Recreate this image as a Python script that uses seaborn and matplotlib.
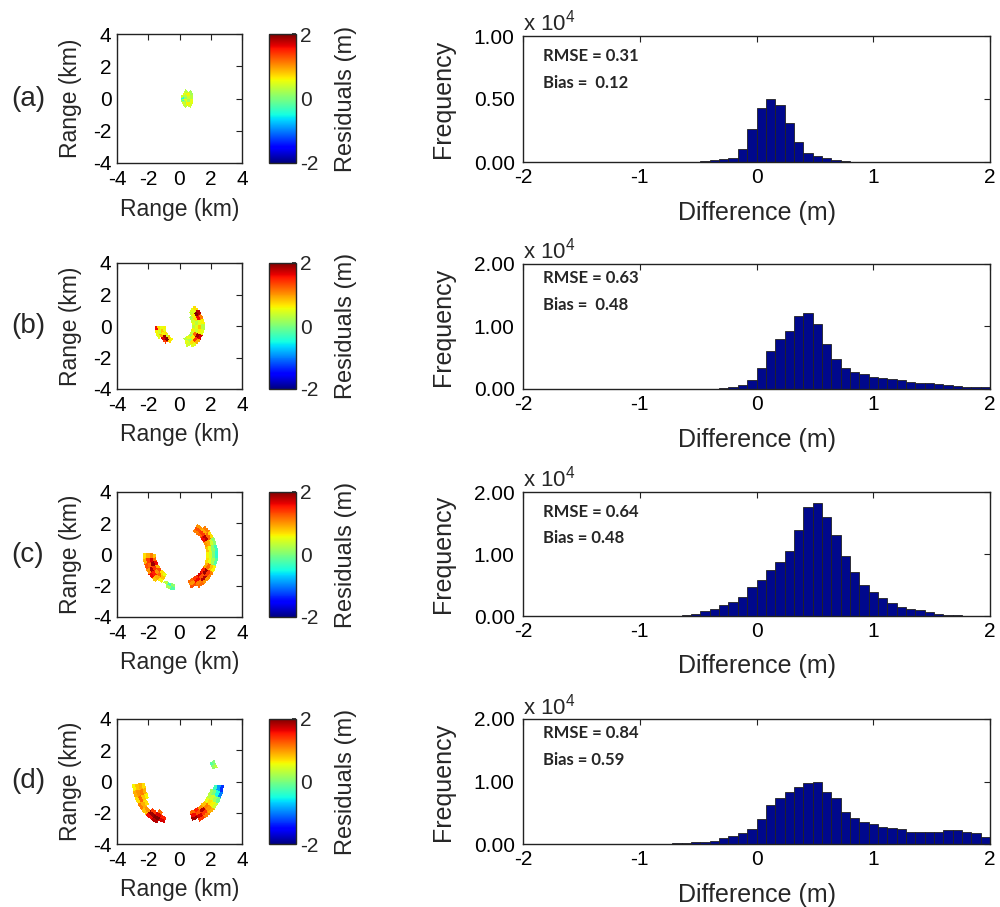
import numpy as np
import pandas as pd
import matplotlib
matplotlib.use("Agg")
import matplotlib.pyplot as plt
import seaborn as sns
from matplotlib.ticker import FuncFormatter

# Histogram bins of the differences (m): 50 bins from -2 to 2
bin_edges = np.linspace(-2, 2, 51)

# Frequencies per bin (one value per bin, left to right)
freq_a = [0, 0, 0, 0, 0, 0, 0, 0, 0, 0,
          0, 0, 0, 0, 0, 20, 20, 25, 30, 110,
          130, 270, 350, 1000, 2600, 4300, 5000, 4500, 3100, 1600,
          720, 450, 320, 190, 50, 30, 0, 0, 0, 0,
          0, 0, 0, 0, 0, 0, 0, 0, 0, 0]
freq_b = [0, 0, 0, 0, 0, 0, 0, 0, 0, 0,
          0, 0, 0, 0, 0, 0, 0, 0, 0, 0,
          50, 100, 270, 600, 1400, 3350, 6000, 8000, 9200, 11600,
          12200, 10400, 7200, 4800, 3350, 2800, 2400, 2000, 1700, 1600,
          1500, 1200, 1000, 900, 800, 600, 500, 400, 350, 350]
freq_c = [0, 0, 0, 0, 0, 0, 0, 0, 0, 0,
          0, 0, 0, 30, 30, 40, 60, 160, 400, 800,
          1200, 1700, 2200, 3000, 4600, 5800, 7500, 8700, 10500, 13900,
          17600, 18200, 15900, 13000, 9600, 7100, 5000, 3800, 2900, 2100,
          1500, 1100, 900, 650, 400, 200, 150, 30, 0, 0]
freq_d = [0, 0, 0, 0, 0, 0, 0, 0, 0, 0,
          0, 30, 30, 30, 40, 50, 150, 200, 250, 350,
          450, 950, 1250, 1750, 2400, 4000, 6200, 7300, 8300, 9100,
          9700, 10000, 8400, 7300, 5200, 4200, 3600, 3200, 2800, 2500,
          2400, 2000, 2000, 2000, 2000, 2200, 2200, 2000, 1700, 1200]

y_max = [1e4, 2e4, 2e4, 2e4]
y_ticks = [[0, 0.5e4, 1e4], [0, 1e4, 2e4], [0, 1e4, 2e4], [0, 1e4, 2e4]]
rmse_labels = ["RMSE = 0.31", "RMSE = 0.63", "RMSE = 0.64", "RMSE = 0.84"]
bias_labels = ["Bias =  0.12", "Bias =  0.48", "Bias = 0.48", "Bias = 0.59"]
panel_labels = ["(a)", "(b)", "(c)", "(d)"]

# Residual maps: arc sectors (r0, r1 in km, theta0, theta1 in deg, residuals in m)
# residual tables: rows inner -> outer radius, columns along the arc (ccw)
nan = np.nan
sectors_a = [
    (0.1, 0.9, -60, 55, [[0.2, -0.3, 0.3, -0.5, 0.2, 0.4],
                         [0.4, 0.2, 0.5, 0.1, 0.3, 0.5],
                         [0.3, 0.6, 0.2, 0.4, 0.6, 0.3],
                         [nan, 0.4, 0.5, 0.3, 0.2, nan]]),
]
sectors_b = [
    (0.9, 1.6, 180, 242, [[0.6, 0.5, 0.7, 0.4, 0.8, 0.6],
                          [0.5, 0.8, 0.6, 1.9, 2.0, 0.7],
                          [0.7, 0.4, 0.9, 1.7, 1.4, nan],
                          [1.6, 0.6, 0.5, nan, nan, nan]]),
    (0.8, 1.6, -72, 55, [[0.3, 0.5, 0.2, 0.4, 0.6, 0.3, 0.5, 0.4, 0.2, nan],
                         [0.5, 0.2, 0.6, 1.2, 0.4, 0.5, 0.3, 0.7, 0.6, 0.4],
                         [0.4, 0.7, 1.4, 1.9, 0.6, 0.8, 0.5, 1.6, 2.0, 0.5],
                         [nan, 0.5, 0.9, 1.7, 0.5, 0.3, 0.6, 1.1, 1.8, 0.7]]),
]
sectors_c = [
    (1.5, 2.35, 178, 238, [[0.8, 1.2, 1.6, 0.9, 1.3, 0.7, 0.5],
                           [1.1, 1.7, 1.9, 1.4, 1.0, 1.2, 0.8],
                           [0.9, 1.4, 1.2, 1.8, 1.5, 0.9, 0.6],
                           [0.7, 0.9, 1.3, 1.0, 1.6, 0.8, nan]]),
    (1.9, 2.3, 240, 262, [[0.3, -0.3, 0.1],
                          [nan, 0.2, -0.2]]),
    (1.7, 2.45, -72, 60, [[1.2, 1.4, 1.7, 1.5, 0.9, 0.7, 0.6, 0.8, 1.0, 1.6, 1.2, 1.1],
                          [1.0, 1.6, 1.3, 1.9, 1.2, 0.5, 0.4, 0.5, 0.9, 1.8, 1.4, 1.3],
                          [1.3, 1.1, 1.8, 1.4, 0.8, 0.2, 0.0, 0.1, 0.4, 1.2, 0.9, 1.0],
                          [nan, 1.2, 1.0, 1.1, 0.6, -0.2, -0.4, -0.3, 0.1, 0.7, 1.1, nan]]),
]
sectors_d = [
    (2.2, 3.05, 183, 250, [[0.7, 0.9, 0.6, nan, nan, nan, 1.2, nan],
                           [0.9, 1.1, 0.8, 0.7, nan, 1.4, 1.7, 1.5],
                           [0.8, 1.0, 1.2, 0.9, 1.0, 1.9, 2.0, 1.7],
                           [0.6, 0.9, 0.7, 1.1, 0.8, 1.6, 1.8, nan]]),
    (2.0, 2.85, -72, -5, [[1.2, 1.5, 1.0, 0.8, 0.5, 0.3, 0.2, nan],
                          [1.6, 1.3, 1.8, 1.1, 0.7, 0.4, 0.0, -0.3],
                          [1.9, 1.7, 1.4, 1.0, 0.6, 0.2, -0.5, -0.9],
                          [nan, 1.4, 1.1, 0.9, 0.4, -0.1, -1.0, -1.3]]),
    (2.25, 2.6, 20, 32, [[0.1, -0.2],
                         [0.3, 0.0]]),
]

sns.set_theme(style="white")
plt.rcParams["font.family"] = ["Liberation Sans", "DejaVu Sans"]
plt.rcParams["mathtext.fontset"] = "custom"
plt.rcParams["mathtext.rm"] = "Liberation Sans"
plt.rcParams["axes.unicode_minus"] = False

W, H = 1000, 907
fig = plt.figure(figsize=(W / 100, H / 100), dpi=100)


def px_axes(x0, y0, x1, y1):
    """Axes from pixel box (top-left origin)."""
    return fig.add_axes([x0 / W, 1 - y1 / H, (x1 - x0) / W, (y1 - y0) / H])


# polar grid for the residual maps
grid = np.linspace(-4, 4, 201)
gc = (grid[:-1] + grid[1:]) / 2
X, Y = np.meshgrid(gc, gc)
R = np.hypot(X, Y)
TH = np.degrees(np.arctan2(Y, X))


def residual_grid(sectors):
    Z = np.full(X.shape, np.nan)
    for r0, r1, t0, t1, vals in sectors:
        vals = np.array(vals, dtype=float)
        nr, nt = vals.shape
        dt = (TH - t0) % 360
        m = (R >= r0) & (R < r1) & (dt < (t1 - t0))
        ri = np.clip(((R[m] - r0) / (r1 - r0) * nr).astype(int), 0, nr - 1)
        ti = np.clip((dt[m] / (t1 - t0) * nt).astype(int), 0, nt - 1)
        Z[m] = vals[ri, ti]
    return Z


def style_box(ax):
    for s in ax.spines.values():
        s.set_linewidth(1.0)
        s.set_color("#222222")
        s.set_visible(True)
    ax.tick_params(direction="in", top=True, right=True, length=4, width=0.8,
                   labelsize=15, colors="#222222", labelcolor="black")


map_rows = [(34, 163), (263, 389), (492, 617), (719, 844)]
hist_rows = [(36, 162), (264, 389), (492, 616), (719, 844)]
text_y = [(0.84, 0.63), (0.89, 0.67), (0.84, 0.63), (0.89, 0.67)]
all_sectors = [sectors_a, sectors_b, sectors_c, sectors_d]
all_freq = [freq_a, freq_b, freq_c, freq_d]
bin_centers = (bin_edges[:-1] + bin_edges[1:]) / 2

for i in range(4):
    top, bot = map_rows[i]

    # residual map
    ax = px_axes(117, top, 242, bot)
    mesh = ax.pcolormesh(grid, grid, residual_grid(all_sectors[i]),
                         cmap="jet", vmin=-2, vmax=2, shading="flat")
    ax.set_xlim(-4, 4)
    ax.set_ylim(-4, 4)
    ax.set_xticks([-4, -2, 0, 2, 4])
    ax.set_yticks([-4, -2, 0, 2, 4])
    style_box(ax)
    ax.tick_params(axis="x", pad=5)
    ax.tick_params(axis="y", pad=4)
    ax.set_xlabel("Range (km)", fontsize=16.5)
    ax.set_ylabel("Range (km)", fontsize=16.5)
    ax.xaxis.set_label_coords(0.5, -0.27)
    ax.yaxis.set_label_coords(-0.28, 0.5)

    # colorbar
    cax = px_axes(269, top, 296, bot)
    cbar = fig.colorbar(mesh, cax=cax, ticks=[-2, 0, 2])
    cbar.outline.set_linewidth(1.0)
    cax.tick_params(direction="in", length=3, labelsize=15, pad=3)
    cax.set_ylabel("Residuals (m)", fontsize=17)
    cax.yaxis.set_label_coords(2.45, 0.5)

    fig.text(28 / W, 1 - (top + bot) / 2 / H, panel_labels[i], fontsize=20,
             ha="center", va="center")

    # histogram of differences
    htop, hbot = hist_rows[i]
    hx = px_axes(523, htop, 990, hbot)
    hist_df = pd.DataFrame({"difference": bin_centers, "frequency": all_freq[i]})
    sns.histplot(data=hist_df, x="difference", weights="frequency",
                 bins=list(bin_edges), ax=hx, color="#00088C",
                 edgecolor="#222222", linewidth=0.6, alpha=1)
    hx.set_xlim(-2, 2)
    hx.set_ylim(0, y_max[i])
    hx.set_xticks([-2, -1, 0, 1, 2])
    hx.set_yticks(y_ticks[i])
    hx.yaxis.set_major_formatter(FuncFormatter(lambda v, p: f"{v / 1e4:.2f}"))
    style_box(hx)
    hx.tick_params(axis="x", pad=4)
    hx.tick_params(axis="y", pad=6)
    hx.set_xlabel("Difference (m)", fontsize=18)
    hx.set_ylabel("Frequency", fontsize=18)
    hx.xaxis.set_label_coords(0.5, -0.31)
    hx.yaxis.set_label_coords(-0.145, 0.5)
    hx.text(0.0, 1.0, r"x 10$^{4}$", transform=hx.transAxes, ha="left",
            va="bottom", fontsize=16)
    hx.text(0.043, text_y[i][0], rmse_labels[i], transform=hx.transAxes,
            ha="left", va="center", fontsize=12, fontweight="bold", family="Lato")
    hx.text(0.043, text_y[i][1], bias_labels[i], transform=hx.transAxes,
            ha="left", va="center", fontsize=12, fontweight="bold", family="Lato")

fig.savefig("out.png", dpi=100)
